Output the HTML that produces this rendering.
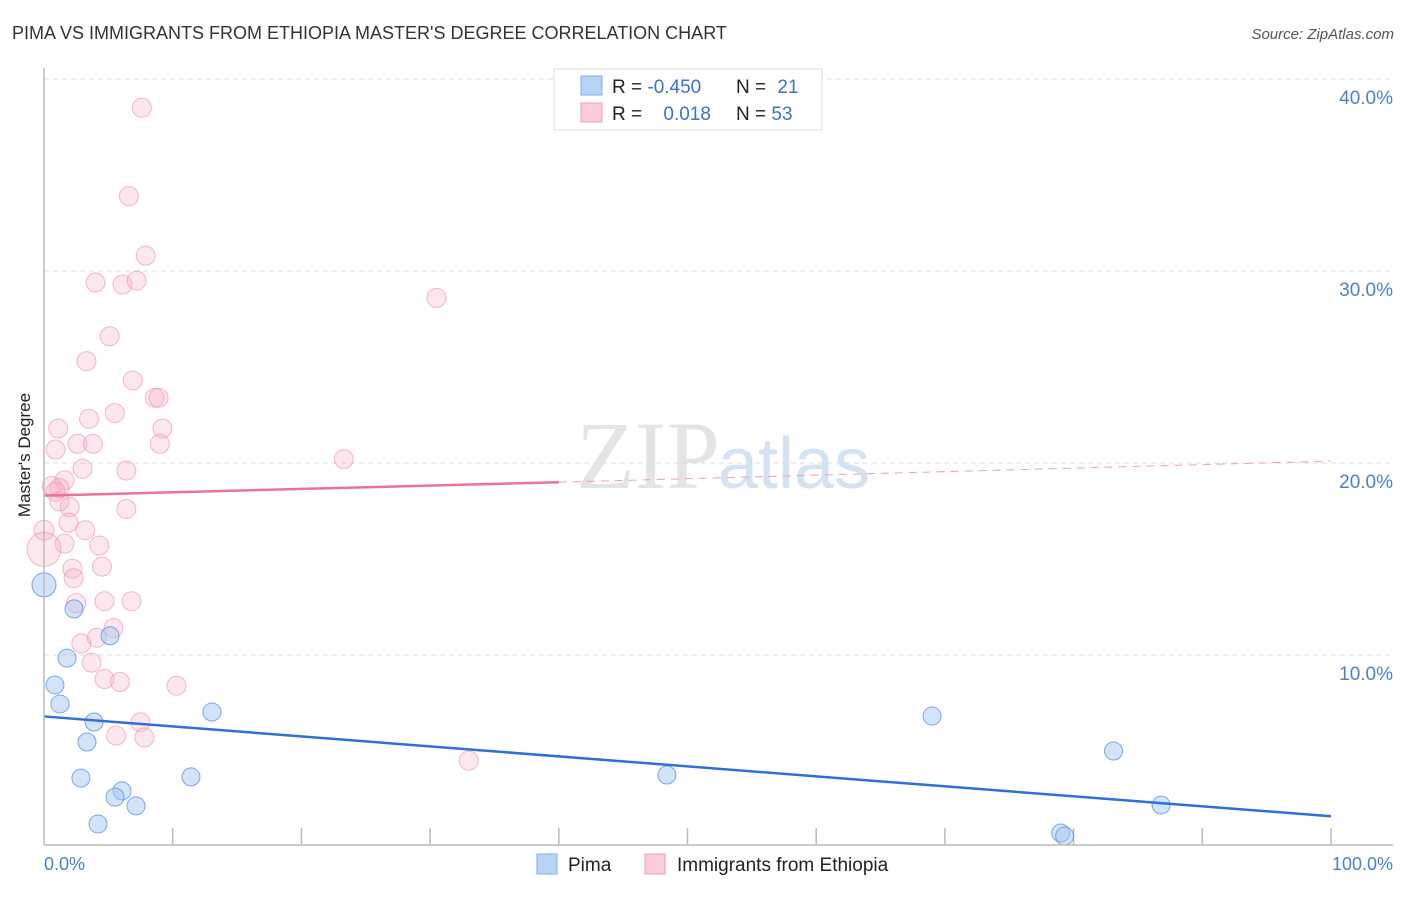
<!DOCTYPE html>
<html><head><meta charset="utf-8"><style>
body{margin:0;background:#fff;font-family:"Liberation Sans",sans-serif;}
</style></head><body>
<svg id="c" width="1406" height="892" xmlns="http://www.w3.org/2000/svg">
<text x="12" y="39" font-size="18" fill="#333">PIMA VS IMMIGRANTS FROM ETHIOPIA MASTER'S DEGREE CORRELATION CHART</text>
<text x="1394" y="39" font-size="15" fill="#555" font-style="italic" text-anchor="end">Source: ZipAtlas.com</text>
<text x="720" y="488" font-size="96" fill="#e4e4e4" text-anchor="end" font-family="Liberation Serif,serif">ZIP</text>
<text x="718" y="488" font-size="72" fill="#d4e3f3">atlas</text>
<g id="grid"></g>
<g id="pts"></g>
<g id="lines"></g>
<line x1="44" y1="68" x2="44" y2="845" stroke="#bbb" stroke-width="1.5"/>
<line x1="44" y1="845" x2="1393" y2="845" stroke="#bbb" stroke-width="1.5"/>
<text x="30" y="455" font-size="17" fill="#222" text-anchor="middle" transform="rotate(-90 30 455)">Master's Degree</text>
<text x="44" y="870" font-size="18" fill="#4a7fd0">0.0%</text>
<text x="1393" y="870" font-size="18" fill="#4a7fd0" text-anchor="end">100.0%</text>
<g>
<rect x="554" y="69" width="268" height="61" fill="#fff" stroke="#ddd"/>
<rect x="581" y="76" width="21" height="19" fill="#b8d3f5" stroke="#7faee8"/>
<rect x="581" y="103" width="21" height="19" fill="#fbcbd9" stroke="#f09ab4"/>
<text x="612" y="93" font-size="19" fill="#222">R = <tspan fill="#3a72cc">-0.450</tspan></text>
<text x="736" y="93" font-size="19" fill="#222">N = <tspan fill="#3a72cc" dx="6">21</tspan></text>
<text x="612" y="120" font-size="19" fill="#222">R = <tspan fill="#3a72cc" dx="16">0.018</tspan></text>
<text x="736" y="120" font-size="19" fill="#222">N = <tspan fill="#3a72cc">53</tspan></text>
</g>
<g>
<rect x="537" y="854" width="20" height="20" fill="#b8d3f5" stroke="#7faee8"/>
<text x="568" y="871" font-size="19" fill="#222">Pima</text>
<rect x="645" y="854" width="20" height="20" fill="#fbcbd9" stroke="#f09ab4"/>
<text x="677" y="871" font-size="19" fill="#222">Immigrants from Ethiopia</text>
</g>
</svg>
<script>
const yTicks=[10,20,30,40];
const yTickLabels=["10.0%","20.0%","30.0%","40.0%"];
const pimaX=[0,2.33,5.13,1.79,0.85,1.24,3.89,13.05,3.34,2.87,11.42,6.06,5.52,7.15,4.2,48.4,69.0,83.1,86.8,79.0,79.3];
const pimaY=[13.65,12.4,11.0,9.84,8.44,7.45,6.51,7.03,5.47,3.59,3.65,2.92,2.6,2.14,1.2,3.75,6.82,5.0,2.19,0.73,0.57];
const ethX=[7.6,6.6,7.9,4.0,6.1,7.2,30.5,5.1,3.3,6.9,8.6,8.9,5.5,3.5,1.1,9.2,2.6,3.8,9.0,0.9,23.3,3.0,6.4,0.6,1.6,1.2,0.9,1.2,2.0,6.4,1.9,3.2,0,4.3,1.6,0,4.5,2.2,2.3,4.7,2.5,6.8,5.4,4.1,2.9,3.7,4.7,5.9,10.3,7.5,5.6,7.8,33.0];
const ethY=[38.5,33.9,30.8,29.4,29.3,29.5,28.6,26.6,25.3,24.3,23.4,23.4,22.6,22.3,21.8,21.8,21.0,21.0,21.0,20.7,20.2,19.7,19.6,18.8,19.1,18.7,18.5,18.0,17.7,17.6,16.9,16.5,16.5,15.7,15.8,15.5,14.6,14.5,14.0,12.8,12.7,12.8,11.4,10.9,10.6,9.6,8.75,8.6,8.4,6.5,5.8,5.7,4.5];
const pimaLine=[6.8,1.6];
const ethLine=[18.3,19.0,20.1];
const xTicks=[10,20,30,40,50,60,70,80,90,100];
const X=v=>44+v*12.87, Y=v=>847-v*19.2;
const NS="http://www.w3.org/2000/svg";
function mk(t,a,p){const e=document.createElementNS(NS,t);for(const k in a)e.setAttribute(k,a[k]);p.appendChild(e);return e;}
const g=document.getElementById('grid');
yTicks.forEach((t,i)=>{
 const l=mk('line',{x1:44,x2:1393,y1:Y(t),y2:Y(t),stroke:'#ddd','stroke-dasharray':'5,4'},g);
 
 
 const tx=mk('text',{x:1393,y:Y(t)+25,'font-size':19,fill:'#4a7fd0','text-anchor':'end'},g);
 tx.textContent=yTickLabels[i];
 
 
});
xTicks.forEach(t=>{
 const l=mk('line',{x1:X(t),x2:X(t),y1:828,y2:845,stroke:'#bbb','stroke-width':1.5},g);
 
 
});
const p=document.getElementById('pts');
ethX.forEach((x,i)=>{
 const r=(x===0&&ethY[i]<16)?17:(x===0?10:9.5);
 const c=mk('circle',{cx:X(x),cy:Y(ethY[i]),r:r,fill:'rgba(246,170,195,0.28)',stroke:'rgba(236,140,170,0.6)','stroke-width':1},p);
 
 
});
pimaX.forEach((x,i)=>{
 const r=x===0?12:9;
 const c=mk('circle',{cx:X(x),cy:Y(pimaY[i]),r:r,fill:'rgba(160,195,240,0.45)',stroke:'rgba(80,140,220,0.75)','stroke-width':1},p);
 
 
});
const L=document.getElementById('lines');
const b=mk('line',{x1:X(0),y1:Y(pimaLine[0]),x2:X(100),y2:Y(pimaLine[1]),stroke:'#2f6fd6','stroke-width':2.5},L);


const e1=mk('line',{x1:X(0),y1:Y(ethLine[0]),x2:X(40),y2:Y(ethLine[1]),stroke:'#e8729a','stroke-width':2.5},L);


const e2=mk('line',{x1:X(40),y1:Y(ethLine[1]),x2:X(100),y2:Y(ethLine[2]),stroke:'#e8a0b8','stroke-width':1,'stroke-dasharray':'8,6'},L);


</script>
</body></html>
